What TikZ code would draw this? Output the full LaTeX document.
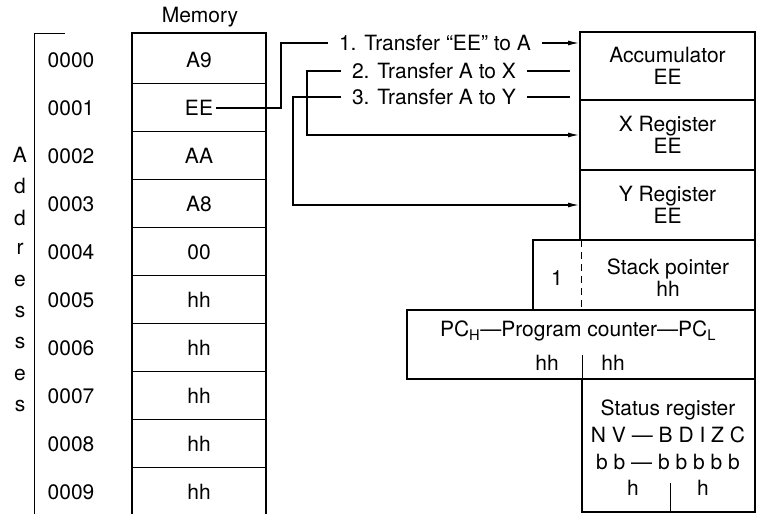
\documentclass[tikz,border=0pt]{standalone}
\usepackage{fontspec}
\setmainfont{TeX Gyre Heros}
\usepackage{tikz}
\usetikzlibrary{arrows.meta}
\tikzset{
	textnode/.style={
			inner sep=0pt,
			align=center,
			font=\fontsize{21}{22}\selectfont
		},
	memnode/.style={
			textnode,
			inner xsep=3pt
		},
	stepnode/.style={
			textnode,
			inner xsep=11pt
		},
	regnode/.style={
			draw=black,
			line width=2pt,
			align=center,
			inner sep=0pt,
			minimum width=175pt,
			minimum height=70pt,
			font=\fontsize{21}{22}\selectfont
		},
	wire/.style={
			line width=1.2pt
		},
	arrowwire/.style={
			wire,
			-{Latex[length=11pt,width=5pt]}
		},
	thinline/.style={
			line width=0.8pt
		},
	thickline/.style={
			line width=2pt
		}
}

\begin{document}
\begin{tikzpicture}[x=1pt,y=-1pt]
\useasboundingbox (0,0) rectangle (757,514);

\node[textnode] (memtitle) at (200,17) {Memory};
\foreach \v [count=\i from 0] in {A9,EE,AA,A8,00,hh,hh,hh,hh,hh} {
	\node[memnode] (m\i) at (199,{60+48*\i}) {\v};
	\node[textnode] (a\i) at (71,{60+48*\i}) {000\i};
}
\foreach \l [count=\i from 0] in {A,d,d,r,e,s,s,e,s}
	\node[textnode] (ad\i) at (20,{155+31.4*\i}) {\l};

\draw[thinline] (65,33) -- (34,33) -- (34,514);
\draw[thickline] (132,514) -- (132,33) -- (266,33) -- (266,514);
\foreach \i in {1,...,9}
	\draw[thinline] (132,{35+48*\i}) -- (266,{35+48*\i});

\node[regnode, minimum height=68pt] (acc) at (667.5,66) {Accumulator\\EE};
\node[regnode] (xreg) at (667.5,135) {X Register\\EE};
\node[regnode] (yreg) at (667.5,205) {Y Register\\EE};

\node[regnode, minimum width=222pt] (sp) at (644,275) {};
\node[textnode] (sptext) at (668,278) {Stack pointer\\hh};
\node[textnode] (spone) at (557,278) {1};
\draw[thinline, dash pattern=on 7pt off 5pt] (581,240) -- (581,310);

\node[regnode, minimum width=348pt, minimum height=69pt] (pc) at (581,344.5) {};
\node[textnode] (pctext) at (578,331) {PC\textsubscript{H}---Program counter---PC\textsubscript{L}};
\node[textnode] (pch) at (547,363) {hh};
\node[textnode] (pcl) at (613,363) {hh};
\draw[thinline] (582,355) -- (582,379);

\node[regnode, minimum width=173pt, minimum height=133pt] (sr) at (668.5,445.5) {};
\node[textnode, font=\fontsize{21}{27}\selectfont] (srtext) at (668,435) {Status register\\N V --- B D I Z C\\b b --- b b b b b};
\node[textnode] (srh) at (633,488) {h};
\node[textnode] (srl) at (703,488) {h};
\draw[thinline] (670,483) -- (670,512);

\node[stepnode] (t1) at (435,43) {1. Transfer “EE” to A};
\node[stepnode] (t2) at (434,71) {2. Transfer A to X};
\node[stepnode] (t3) at (434,97) {3. Transfer A to Y};
\coordinate (k1) at (281,43);
\coordinate (k2) at (307,71);
\coordinate (k3) at (293,97);

\draw[wire] (m1.east) -| (k1) -- (t1.west);
\draw[arrowwire] (t1.east) -- (t1 -| acc.west);
\draw[wire, shorten >=9pt] (t2.east) -- (t2 -| acc.west);
\draw[wire, shorten >=9pt] (t3.east) -- (t3 -| acc.west);
\draw[arrowwire] (t2.west) -- (k2) |- (xreg.west);
\draw[arrowwire] (t3.west) -- (k3) |- (yreg.west);

\end{tikzpicture}
\end{document}
